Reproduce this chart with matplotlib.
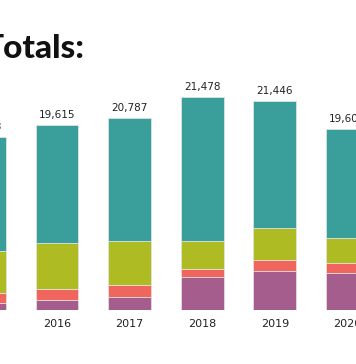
import matplotlib
matplotlib.use("Agg")
import matplotlib.pyplot as plt
import numpy as np

years = ["2015", "2016", "2017", "2018", "2019", "2020"]
totals = ["17,953", "19,615", "20,787", "21,478", "21,446", "19,604"]

# stacked segments, bottom to top
purple = [720, 1020, 1330, 3370, 3980, 3770]
red = [1020, 1120, 1220, 820, 1120, 1020]
green = [4280, 4690, 4490, 2860, 3260, 2550]
teal = [11630, 12040, 12550, 14690, 12950, 11120]

colors = ["#a45d8d", "#f0665f", "#afbb22", "#3a9e9a"]

fig = plt.figure(figsize=(3.56, 3.64), dpi=100)
ax = fig.add_axes([0, 54 / 364, 1, 250 / 364])

x = np.arange(len(years))
bottom = np.zeros(len(years))
for vals, c in zip([purple, red, green, teal], colors):
    ax.bar(x, vals, width=0.59, bottom=bottom, color=c,
           edgecolor="#e6e6e6", linewidth=0.5)
    bottom += np.array(vals)

for xi, top, lab in zip(x, bottom, totals):
    ax.text(xi, top + 500, lab, ha="center", va="bottom",
            fontsize=7.5, color="#222222")
    ax.text(xi, -900, years[xi], ha="center", va="top",
            fontsize=8, color="#222222")

ax.set_xlim(0.215, 5.118)
ax.set_ylim(0, 25500)
ax.axis("off")

fig.text(-0.046, 1 - 58 / 364, "Totals:", fontsize=24, fontweight="black",
         family="Lato", color="#111111", ha="left", va="baseline")

fig.savefig("out.png", dpi=100)
